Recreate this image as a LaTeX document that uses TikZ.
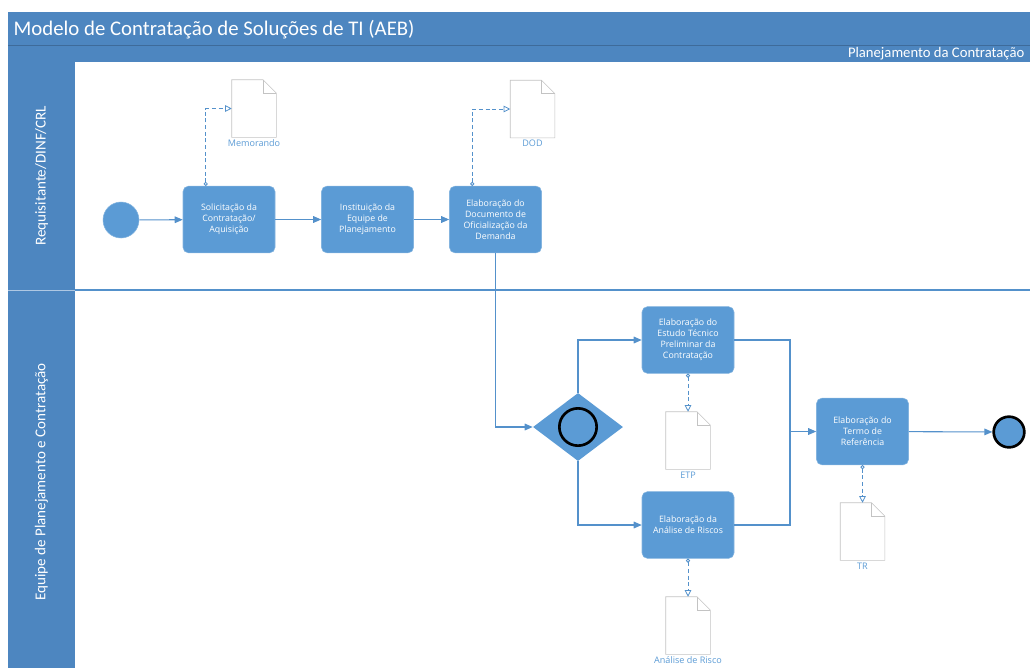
\documentclass[tikz,border=0pt]{standalone}
\usepackage{fontspec}
\setmainfont{Open Sans}
\newfontfamily\titlefont{Carlito}
\usetikzlibrary{arrows.meta,calc,shapes.geometric}

\definecolor{poolblue}{RGB}{77,134,192}
\definecolor{taskblue}{RGB}{91,155,213}
\definecolor{flowblue}{RGB}{84,145,203}
\definecolor{docgray}{RGB}{195,195,195}

% folded-corner outline over a document node
\newcommand{\docfold}[1]{%
	\draw[docgray, fill=white] (#1.south west) -- (#1.north west)
		-- ([xshift=-10pt]#1.north east) -- ([yshift=-10pt]#1.north east)
		-- (#1.south east) -- cycle;
	\draw[docgray] ([xshift=-10pt]#1.north east) |- ([yshift=-10pt]#1.north east);
}

\begin{document}
\begin{tikzpicture}[%
					x=0.75pt, y=-0.75pt,
					task/.style={%
						rectangle,
						rounded corners=4pt,
						fill=taskblue,
						draw=taskblue!75!white,
						minimum width=69pt,
						minimum height=50pt,
						inner sep=2pt,
						align=center,
						text=white,
						font=\fontsize{6.6}{8.3}\selectfont
					},
					docfile/.style={%
						rectangle,
						minimum width=33pt,
						minimum height=42.75pt,
						inner sep=0pt
					},
					doclabel/.style={%
						text=taskblue,
						inner sep=1.5pt,
						font=\fontsize{6.8}{8}\selectfont
					},
					lanelabel/.style={%
						rotate=90,
						text=white,
						font=\titlefont\fontsize{11.3}{13}\selectfont
					},
					flow/.style={%
						draw=flowblue,
						line width=0.8pt,
						-{Triangle[length=6pt,width=5pt]}
					},
					assoc/.style={%
						draw=flowblue,
						line width=0.6pt,
						dash pattern=on 3pt off 2pt,
						{Circle[open,length=3pt]}-{Triangle[open,length=5pt,width=5pt]}
					}
				]
	\useasboundingbox (0,0) rectangle (1030,668);
	\clip (0,0) rectangle (1030,668);

	% pool and lanes
	\fill[poolblue] (8,12) rectangle (1030,62);
	\draw[poolblue!80!black, line width=0.5pt] (8,45) -- (1030,45);
	\fill[poolblue] (8,62) rectangle (75,668);
	\draw[white!55!poolblue] (8,290) -- (75,290);
	\draw[flowblue, line width=0.8pt] (75,290) -- (1030,290);

	\node[anchor=west, text=white, font=\titlefont\fontsize{15.6}{17}\selectfont] (title) at (9,29.5)
		{Modelo de Contratação de Soluções de TI (AEB)};
	\node[anchor=east, text=white, font=\titlefont\fontsize{11}{13}\selectfont] (phase) at (1029,54)
		{Planejamento da Contratação};

	\node[lanelabel] (lanereq) at (41.5,176) {Requisitante/DINF/CRL};
	\node[lanelabel] (laneeq) at (41.5,482) {Equipe de Planejamento e Contratação};

	% documents
	\node[docfile, label={[doclabel]below:Memorando}] (memo) at (254,108.5) {};
	\node[docfile, label={[doclabel]below:DOD}] (dod) at (532.5,109) {};
	\node[docfile, label={[doclabel]below:ETP}] (etpdoc) at (688,440.5) {};
	\node[docfile, label={[doclabel]below:Análise de Risco}] (riskdoc) at (688,625.5) {};
	\node[docfile, label={[doclabel]below:TR}] (trdoc) at (862.5,531.5) {};
	\docfold{memo}
	\docfold{dod}
	\docfold{etpdoc}
	\docfold{riskdoc}
	\docfold{trdoc}

	% events and gateway
	\node[circle, fill=taskblue, draw=taskblue!75!white, minimum size=27pt] (start) at (121,220) {};
	\node[circle, fill=taskblue, draw=black, line width=2pt, minimum size=23pt] (endevt) at (1009,432) {};
	\node[diamond, fill=taskblue, minimum width=67.5pt, minimum height=51pt, inner sep=0pt] (gw) at (578,427) {};
	\node[circle, draw=black, line width=2pt, minimum size=28pt] (gwmark) at (gw.center) {};

	% tasks
	\node[task] (sol) at (229,219.5) {Solicitação da\\Contratação/\\Aquisição};
	\node[task] (inst) at (367.5,219.5) {Instituição da\\Equipe de\\Planejamento};
	\node[task] (ofic) at (495.5,219.5) {Elaboração do\\Documento de\\Oficialização da\\Demanda};
	\node[task] (etp) at (688,340) {Elaboração do\\Estudo Técnico\\Preliminar da\\Contratação};
	\node[task] (risk) at (688,525) {Elaboração da\\Análise de Riscos};
	\node[task] (tr) at (862.5,431.5) {Elaboração do\\Termo de\\Referência};

	% sequence flows
	\coordinate (join) at (790,431.5);
	\draw[flow] (start) -- (sol);
	\draw[flow] (sol) -- (inst);
	\draw[flow] (inst) -- (ofic);
	\draw[flow] (ofic.south) |- (gw.west);
	\draw[flow] (gw.north) |- (etp.west);
	\draw[flow] (gw.south) |- (risk.west);
	\draw[flow] (etp.east) -| (join) -- (tr.west);
	\draw[flowblue, line width=0.8pt] (risk.east) -| (join);
	\draw[flow] (tr) -- (endevt);

	% associations
	\draw[assoc] ($(sol.north west)+(23,0)$) |- (memo.west);
	\draw[assoc] ($(ofic.north west)+(23,0)$) |- (dod.west);
	\draw[assoc] (etp.south) -- (etpdoc.north);
	\draw[assoc] (risk.south) -- (riskdoc.north);
	\draw[assoc] (tr.south) -- (trdoc.north);
\end{tikzpicture}
\end{document}
